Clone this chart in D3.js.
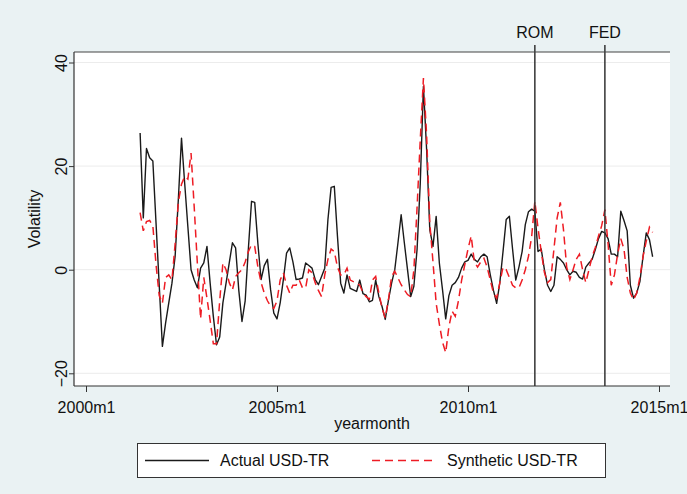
<!DOCTYPE html>
<html><head><meta charset="utf-8">
<script src="https://cdn.jsdelivr.net/npm/d3@7"></script>
<style>
html,body{margin:0;padding:0;background:#eaf2f3;}
svg{display:block;font-family:"Liberation Sans",Arial,Helvetica,sans-serif;}
</style></head><body>
<svg id="chart" width="687" height="494"></svg>
<script>
// Monthly series, first observation 2001m6 (month index counted from 2000m1)
const startMonth = 17;
const actualUSDTR = [
  26.4, 10.0, 23.4, 21.6, 21.0, 9.0, -3.0, -14.8, -10.3, -6.4,
  -2.6, 2.6, 13.5, 25.4, 16.7, 8.3, 0.0, -2.0, -3.5, 0.3,
  1.3, 4.5, -2.6, -9.0, -14.5, -13.0, -6.4, -2.6, 1.3, 5.2,
  4.2, -4.0, -10.0, -6.0, 4.0, 13.2, 13.0, 5.0, -1.9, 0.8,
  2.0, -3.9, -8.4, -9.5, -6.4, -1.9, 3.2, 4.2, 1.5, -1.9,
  -1.8, -1.6, 1.3, 0.8, 0.3, -1.9, -2.9, -1.3, 0.3, 9.7,
  15.9, 16.1, 6.4, -2.6, -4.5, -1.0, -3.6, -3.9, -4.2, -2.0,
  -4.6, -4.9, -6.2, -5.9, -2.0, -5.2, -7.1, -9.6, -5.9, -2.6,
  0.0, 5.2, 10.6, 5.2, 0.0, -5.2, -3.2, 3.9, 16.6, 35.4,
  23.2, 7.7, 4.5, 10.3, 1.3, -3.9, -9.5, -5.0, -3.0, -2.5,
  -1.5, 0.3, 1.5, 1.8, 3.0, 2.0, 1.5, 2.5, 3.0, 2.5,
  -1.0, -4.0, -6.5, -2.5, 3.5, 9.7, 10.3, 4.0, -2.0, 0.5,
  3.5, 8.7, 11.2, 11.7, 11.3, 3.5, 4.0, 0.0, -3.0, -4.2,
  -3.0, 2.5, 2.0, 1.3, 0.0, -1.0, -0.3, -0.5, -1.5, -1.8,
  0.5, 1.3, 2.0, 3.9, 6.0, 7.4, 7.1, 6.0, 3.0, 3.0,
  2.5, 11.3, 9.5, 7.5, -3.0, -5.5, -4.5, -2.3, 2.6, 7.1,
  5.8, 2.5
];
const syntheticUSDTR = [
  11.0, 7.5, 9.3, 9.5, 8.5, 1.0, -5.0, -6.5, -1.5, -1.0,
  -2.0, 5.0, 13.0, 16.5, 18.0, 17.5, 22.5, 12.0, 1.0, -9.5,
  -1.5, -5.5, -9.8, -14.3, -14.3, -6.0, 1.3, 0.0, -2.5, -3.9,
  -1.3, -0.6, 0.0, 1.5, 3.5, 4.8, 4.5, 0.5, -2.5, -4.5,
  -6.0, -7.0, -7.5, -6.0, -2.0, -0.6, -3.0, -4.5, -3.0, -3.0,
  -2.0, -3.5, -3.5, 0.0, -0.6, -2.5, -4.0, -5.2, -1.0, 2.0,
  4.0, 3.5, 0.5, -1.0, -1.0, 0.3, -2.0, -2.3, -2.5, -3.0,
  -4.4, -5.2, -5.7, -2.0, -1.3, -4.5, -7.4, -9.3, -5.8, -1.3,
  -0.3, -1.6, -2.9, -3.9, -4.8, -5.2, 0.0, 12.0, 25.0, 37.0,
  26.0, 9.0, 1.5, -6.5, -10.5, -14.0, -16.0, -11.0, -8.0, -9.0,
  -6.0, -2.0, 1.0, 4.0, 6.5, 1.5, 0.5, 1.5, 2.2, 0.5,
  -2.0, -4.5, -5.5, -2.5, 0.5, 0.0, -1.5, -3.0, -3.5, -3.5,
  -2.0, 0.0, 2.6, 6.4, 13.2, 8.0, 3.5, -0.5, -2.5, -1.9,
  4.0, 10.0, 13.0, 7.7, 0.5, -1.9, 0.0, 2.0, 3.0, 0.0,
  -2.5, 0.0, 2.5, 4.3, 6.5, 8.5, 11.6, 5.0, -3.0, -1.0,
  3.0, 6.0, 4.0, -1.5, -4.5, -5.8, -4.5, -1.5, 2.6, 5.5,
  8.2, 7.2
];
const xTickMonths = [0, 60, 120, 180];
const xTickLabels = ["2000m1", "2005m1", "2010m1", "2015m1"];
const yTicks = [-20, 0, 20, 40];
const eventMonths = [141, 163];
const eventLabels = ["ROM", "FED"];
const seriesNames = ["Actual USD-TR", "Synthetic USD-TR"];

const svg = d3.select("#chart");
const box = {left: 74, right: 670, top: 52, bottom: 386};

const x = d3.scaleLinear().domain([0, 180]).range([86, 659]);
const y = d3.scaleLinear().domain([-20, 40]).range([373.3, 62.5]);

// graph background and white plot region
svg.append("rect").attr("width", 687).attr("height", 494).attr("fill", "#eaf2f3");
svg.append("rect")
  .attr("x", box.left).attr("y", box.top)
  .attr("width", box.right - box.left).attr("height", box.bottom - box.top)
  .attr("fill", "#ffffff");

// horizontal grid
svg.append("g").selectAll("line").data(yTicks).join("line")
  .attr("x1", box.left).attr("x2", box.right)
  .attr("y1", d => y(d)).attr("y2", d => y(d))
  .attr("stroke", "#ececec").attr("stroke-width", 1);

// series lines
const rows = actualUSDTR.map((v, i) => ({m: startMonth + i, a: v, s: syntheticUSDTR[i]}));
const lineA = d3.line().x(d => x(d.m)).y(d => y(d.a));
const lineS = d3.line().x(d => x(d.m)).y(d => y(d.s));

svg.append("path").datum(rows).attr("d", lineA)
  .attr("fill", "none").attr("stroke", "#1a1a1a").attr("stroke-width", 1.4)
  .attr("stroke-linejoin", "round");
svg.append("path").datum(rows).attr("d", lineS)
  .attr("fill", "none").attr("stroke", "#ee1c24").attr("stroke-width", 1.5)
  .attr("stroke-dasharray", "8,5");

// event markers
const ev = svg.append("g");
ev.selectAll("line").data(eventMonths).join("line")
  .attr("x1", d => x(d)).attr("x2", d => x(d))
  .attr("y1", 45).attr("y2", box.bottom)
  .attr("stroke", "#333").attr("stroke-width", 1.5);
ev.selectAll("text").data(eventMonths).join("text")
  .attr("x", d => x(d)).attr("y", 38)
  .attr("text-anchor", "middle").attr("font-size", 16).attr("fill", "#111")
  .text((d, i) => eventLabels[i]);

// frame lines
svg.append("line").attr("x1", box.left).attr("x2", box.right)
  .attr("y1", box.top).attr("y2", box.top).attr("stroke", "#444").attr("stroke-width", 1.2);

// axes
const xAxis = svg.append("g").attr("transform", `translate(0,${box.bottom})`)
  .call(d3.axisBottom(x).tickValues(xTickMonths).tickFormat((d, i) => xTickLabels[i])
    .tickSize(6).tickPadding(10));
const yAxis = svg.append("g").attr("transform", `translate(${box.left},0)`)
  .call(d3.axisLeft(y).tickValues(yTicks).tickFormat(d3.format("d")).tickSize(5));
[xAxis, yAxis].forEach(g => {
  g.select(".domain").remove();
  g.selectAll(".tick line").attr("stroke", "#333");
  g.selectAll("text").attr("font-size", 16).attr("fill", "#111")
    .attr("font-family", '"Liberation Sans",Arial,sans-serif');
});
yAxis.selectAll(".tick text")
  .attr("transform", "rotate(-90)").attr("x", 0).attr("y", -7).attr("dy", 0)
  .attr("text-anchor", "middle");

svg.append("line").attr("x1", box.left).attr("x2", box.left)
  .attr("y1", box.top).attr("y2", box.bottom).attr("stroke", "#333").attr("stroke-width", 1.2);
svg.append("line").attr("x1", box.left).attr("x2", box.right)
  .attr("y1", box.bottom).attr("y2", box.bottom).attr("stroke", "#333").attr("stroke-width", 1.2);

// axis titles
svg.append("text").attr("x", (box.left + box.right) / 2).attr("y", 429)
  .attr("text-anchor", "middle").attr("font-size", 16).attr("fill", "#111").text("yearmonth");
svg.append("text").attr("transform", `translate(40,${(box.top + box.bottom) / 2}) rotate(-90)`)
  .attr("text-anchor", "middle").attr("font-size", 16).attr("fill", "#111").text("Volatility");

// legend
const lg = svg.append("g");
lg.append("rect").attr("x", 137.5).attr("y", 443.5).attr("width", 468).attr("height", 34)
  .attr("fill", "#fff").attr("stroke", "#333").attr("stroke-width", 1);
lg.append("line").attr("x1", 145).attr("x2", 209).attr("y1", 460.5).attr("y2", 460.5)
  .attr("stroke", "#1a1a1a").attr("stroke-width", 1.4);
lg.append("line").attr("x1", 372).attr("x2", 436).attr("y1", 460.5).attr("y2", 460.5)
  .attr("stroke", "#ee1c24").attr("stroke-width", 1.5).attr("stroke-dasharray", "8,5");
lg.append("text").attr("x", 220).attr("y", 466).attr("font-size", 16).attr("fill", "#111").text(seriesNames[0]);
lg.append("text").attr("x", 447).attr("y", 466).attr("font-size", 16).attr("fill", "#111").text(seriesNames[1]);
</script>
</body></html>
